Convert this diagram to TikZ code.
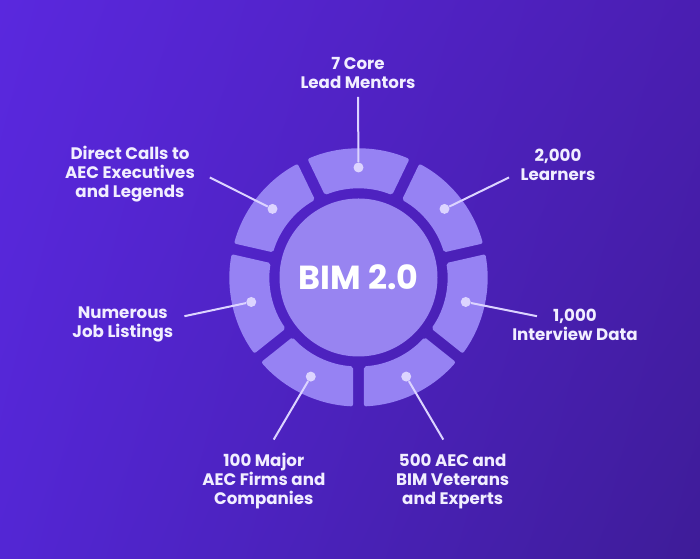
\documentclass[tikz,border=0pt]{standalone}
\usepackage{fontspec}
\setmainfont{Poppins}
\usepackage{tikz}
\usetikzlibrary{positioning, calc, shadings}

\definecolor{bgTL}{HTML}{5A28DE}
\definecolor{bgTR}{HTML}{4A1EB2}
\definecolor{bgBL}{HTML}{5326D4}
\definecolor{bgBR}{HTML}{3E1C98}
\definecolor{ringcol}{HTML}{9682F3}
\definecolor{hubcol}{HTML}{9884F1}
\definecolor{dotcol}{HTML}{DCD4FF}
\definecolor{txtcol}{HTML}{F1EEFF}

\begin{document}
\begin{tikzpicture}[
    x=0.75pt, y=0.75pt,
    hub/.style={
        circle, fill=hubcol, minimum size=158*0.75pt, inner sep=0pt,
        font=\fontsize{25}{28}\selectfont\bfseries, text=white
    },
    seg/.style={fill=ringcol, rounded corners=1.5pt},
    dot/.style={circle, fill=dotcol, minimum size=10*0.75pt, inner sep=0pt},
    lbl/.style={
        align=center, text=txtcol,
        font=\fontsize{12.5}{14.25}\selectfont\bfseries
    },
    link/.style={draw=dotcol, line width=1.5pt},
]

% Background
\shade[upper left=bgTL, upper right=bgTR, lower left=bgBL, lower right=bgBR]
    (0,0) rectangle (700,559);
\useasboundingbox (0,0) rectangle (700,559);

% Hub
\node[hub] (hub) at (358.5,281.5) {BIM 2.0};

% ============ Ring of seven segments ============
\begin{scope}[shift={(hub.center)}]
\foreach \c [evaluate=\c as \aoS using \c-25.714+2.44,
             evaluate=\c as \aoE using \c+25.714-2.44,
             evaluate=\c as \aiS using \c-25.714+3.54,
             evaluate=\c as \aiE using \c+25.714-3.54]
    in {90, 38.571, -12.857, -64.286, -115.714, -167.143, 141.429}
    \fill[seg] (\aoS:129) arc[start angle=\aoS, end angle=\aoE, radius=129]
        -- (\aiE:89) arc[start angle=\aiE, end angle=\aiS, radius=89] -- cycle;

% Dots
\foreach \c/\n in {90/mentors, 38.571/learners, -12.857/interviews,
                   -64.286/veterans, -115.714/firms, -167.143/jobs,
                   141.429/calls}
    \node[dot] (d-\n) at (\c:110) {};
\end{scope}

% ============ Labels ============
\node[lbl] (mentors) at (358,486) {7 Core\\Lead Mentors};
\node[lbl] (learners) at (558,394.5) {2,000\\Learners};
\node[lbl] (interviews) at (575,234.5) {1,000\\Interview Data};
\node[lbl] (veterans) at (452.7,77.5) {500 AEC and\\BIM Veterans\\and Experts};
\node[lbl] (firms) at (263.8,77.5) {100 Major\\AEC Firms and\\Companies};
\node[lbl] (jobs) at (122.8,234.5) {Numerous\\Job Listings};
\node[lbl] (calls) at (130,384.7) {Direct Calls to\\AEC Executives\\and Legends};

% Line ends beside the labels
\coordinate (e-mentors) at (358,462);
\coordinate (e-learners) at (509,381.5);
\coordinate (e-interviews) at (537,242.8);
\coordinate (e-veterans) at (443.3,119.4);
\coordinate (e-firms) at (273.7,119.4);
\coordinate (e-jobs) at (184.4,242.8);
\coordinate (e-calls) at (209.8,381.5);

% ============ Connectors ============
\foreach \n in {mentors, learners, interviews, veterans, firms, jobs, calls}
    \draw[link] (e-\n) -- (d-\n);

\end{tikzpicture}
\end{document}
